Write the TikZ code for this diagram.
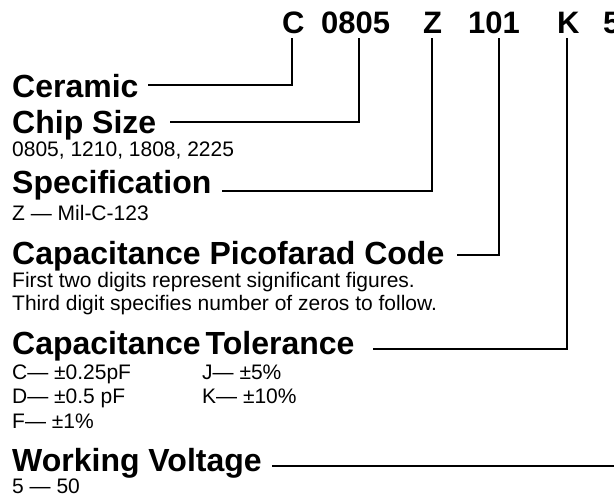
\documentclass[tikz,border=0pt]{standalone}
\usepackage{fontspec}
\setmainfont{Liberation Sans}
\begin{document}
\begin{tikzpicture}[x=1pt,y=-1pt,
  code/.style={anchor=base west,inner sep=0pt,font=\fontsize{31}{36}\selectfont\bfseries},
  head/.style={anchor=base west,inner sep=0pt,font=\fontsize{32}{38}\selectfont\bfseries},
  sub/.style={anchor=base west,inner sep=0pt,font=\fontsize{21}{25}\selectfont},
  lead/.style={line width=1.3pt,line join=miter}]
\useasboundingbox (0,0) rectangle (614,499);
% code letters
\node[code] (cC)  at (282,33) {C};
\node[code] (c0805) at (321,33) {0805};
\node[code] (cZ)  at (423,33) {Z};
\node[code] (c101) at (468,33) {101};
\node[code] (cK)  at (557,33) {K};
\node[code] (c5)  at (603,33) {5};
% headings
\node[head] (ceramic) at (12,97) {Ceramic};
\node[head] (chip) at (12,133) {Chip Size};
\node[sub]  (chipv) at (12,156) {0805, 1210, 1808, 2225};
\node[head] (spec) at (12,193) {Specification};
\node[sub]  (specv) at (12,220) {Z — Mil-C-123};
\node[head] (cap) at (12,264) {Capacitance Picofarad Code};
\node[sub]  (capv1) at (12,287) {First two digits represent significant figures.};
\node[sub]  (capv2) at (12,310) {Third digit specifies number of zeros to follow.};
\node[head] (tol) at (12,354) {Capacitance\hspace{5pt}Tolerance};
\node[sub]  (tolC) at (12,379) {C— ±0.25pF};
\node[sub]  (tolD) at (12,403) {D— ±0.5 pF};
\node[sub]  (tolF) at (12,428) {F— ±1\%};
\node[sub]  (tolJ) at (202,379) {J— ±5\%};
\node[sub]  (tolK) at (202,403) {K— ±10\%};
\node[head] (volt) at (12,471) {Working Voltage};
\node[sub]  (voltv) at (12,493) {5 — 50};
% connector end points
\coordinate (tC) at (292,38);   \coordinate (eC) at (148,85);
\coordinate (t0805) at (359,38); \coordinate (e0805) at (170,122);
\coordinate (tZ) at (432,38);   \coordinate (eZ) at (222,191);
\coordinate (t101) at (499,38); \coordinate (e101) at (457,255);
\coordinate (tK) at (567,38);   \coordinate (eK) at (373,349);
\coordinate (t5) at (614,466);  \coordinate (e5) at (272,466);
% connectors
\draw[lead] (tC) |- (eC);
\draw[lead] (t0805) |- (e0805);
\draw[lead] (tZ) |- (eZ);
\draw[lead] (t101) |- (e101);
\draw[lead] (tK) |- (eK);
\draw[lead] (t5) -- (e5);
\end{tikzpicture}
\end{document}
